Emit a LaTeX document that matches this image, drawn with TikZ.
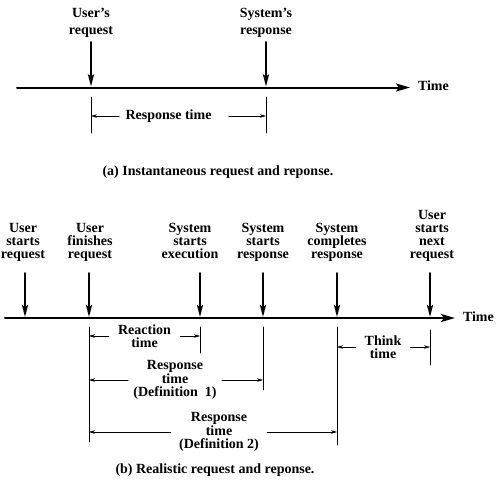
\documentclass[tikz,border=0pt]{standalone}
\usepackage{fontspec}
\setmainfont{Liberation Serif}
\usetikzlibrary{arrows.meta}
\begin{document}
\begin{tikzpicture}[x=1pt, y=-1pt, font=\bfseries\fontsize{14}{13}\selectfont, line cap=round, line join=round, >=Stealth,
		axis/.style={line width=2pt, -{Stealth[length=14pt, width=8pt, inset=3pt]}},
		event/.style={line width=2pt, -{Stealth[length=12pt, width=6pt, inset=2pt]}, shorten >=1pt},
		tick/.style={line width=0.8pt},
		span/.style={line width=0.6pt, -{Stealth[length=6pt, width=3.5pt]}},
		lbl/.style={align=center, inner sep=0pt, text depth=3pt},
		dim/.style={align=center, inner ysep=0pt, inner xsep=7pt, font=\bfseries\fontsize{14}{13.5}\selectfont}]
	\useasboundingbox (0,0) rectangle (500,480);
	% (a) instantaneous
	\coordinate (a0) at (17,87.5);
	\coordinate (a1) at (410,87.5);
	\draw[axis] (a0) -- (a1) node[lbl, right=7pt] (timea) {Time};
	\coordinate (ua) at (91,87.5);
	\coordinate (sa) at (266,87.5);
	\path (ua) ++(0,-45.5) coordinate (uatop) node[lbl, above=4pt, font=\bfseries\fontsize{14}{17}\selectfont] (uareq) {User's\\request};
	\path (sa) ++(0,-45.5) coordinate (satop) node[lbl, above=4pt, font=\bfseries\fontsize{14}{17}\selectfont] (sares) {System's\\response};
	\draw[event] (uatop) -- (ua);
	\draw[event] (satop) -- (sa);
	\draw[tick] (91,97) coordinate (ta1) -- (91,133);
	\draw[tick] (266,97) coordinate (ta2) -- (266,133);
	\node[dim, inner xsep=6pt] (rta) at (168.5,116) {Response time};
	\draw[span] (rta) -- (rta -| ta1);
	\draw[span, shorten <=11pt] (rta) -- (rta -| ta2);
	\node[lbl] (capa) at (218,172) {(a) Instantaneous request and reponse.};
	% (b) realistic
	\coordinate (b0) at (5,318);
	\coordinate (b1) at (455,318);
	\draw[axis] (b0) -- (b1) node[lbl, right=7pt] (timeb) {Time};
	\coordinate (e1) at (25,318);
	\coordinate (e2) at (89,318);
	\coordinate (e3) at (200,318);
	\coordinate (e4) at (263,318);
	\coordinate (e5) at (337,318);
	\coordinate (e6) at (430,318);
	\path (e1) ++(0,-45) coordinate (s1) node[lbl, above=11pt, xshift=-2pt] (l1) {User\\starts\\request};
	\path (e2) ++(0,-45) coordinate (s2) node[lbl, above=11pt, xshift=1pt] (l2) {User\\finishes\\request};
	\path (e3) ++(0,-45) coordinate (s3) node[lbl, above=11pt, xshift=-10pt] (l3) {System\\starts\\execution};
	\path (e4) ++(0,-45) coordinate (s4) node[lbl, above=11pt] (l4) {System\\starts\\response};
	\path (e5) ++(0,-45) coordinate (s5) node[lbl, above=11pt] (l5) {System\\completes\\response};
	\path (e6) ++(0,-45) coordinate (s6) node[lbl, above=11pt, xshift=2pt] (l6) {User\\starts\\next\\request};
	\draw[event] (s1) -- (e1);
	\draw[event] (s2) -- (e2);
	\draw[event] (s3) -- (e3);
	\draw[event] (s4) -- (e4);
	\draw[event] (s5) -- (e5);
	\draw[event] (s6) -- (e6);
	\draw[tick] (89,327) coordinate (t2) -- (89,442);
	\draw[tick] (200,327) coordinate (t3) -- (200,353);
	\draw[tick] (263,327) coordinate (t4) -- (263,390);
	\draw[tick] (337,327) coordinate (t5) -- (337,445);
	\draw[tick] (430,330) coordinate (t6) -- (430,365);
	\node[dim, inner xsep=9pt] (react) at (144.5,336) {Reaction\\time};
	\draw[span] (react) -- (react -| t2);
	\draw[span] (react) -- (react -| t3);
	\node[dim, inner xsep=5pt] (def1) at (175,380) {Response\\time\\(Definition~~1)};
	\draw[span] (def1) -- (def1 -| t2);
	\draw[span] (def1) -- (def1 -| t4);
	\node[dim, inner xsep=8pt] (def2) at (219,432) {Response\\time\\(Definition 2)};
	\draw[span] (def2) -- (def2 -| t2);
	\draw[span] (def2) -- (def2 -| t5);
	\node[dim, inner xsep=9pt] (think) at (383,347) {Think\\time};
	\draw[span] (think) -- (think -| t5);
	\draw[span] (think) -- (think -| t6);
	\node[lbl] (capb) at (215,470) {(b) Realistic request and reponse.};
\end{tikzpicture}
\end{document}
